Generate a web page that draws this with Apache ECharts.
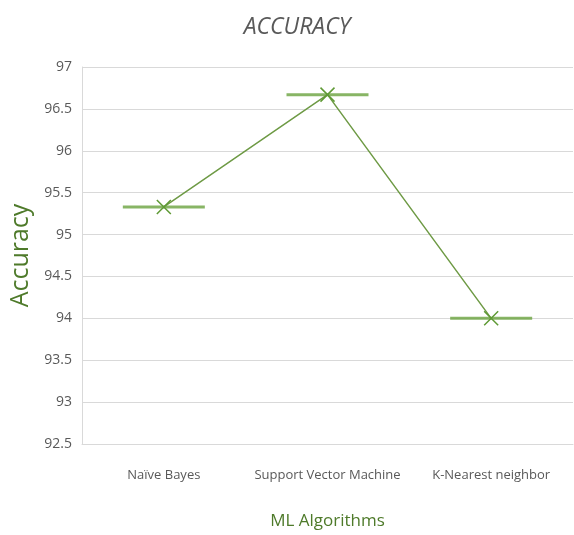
<!DOCTYPE html>
<html><head><meta charset="utf-8">
<script src="https://cdn.jsdelivr.net/npm/echarts@6/dist/echarts.min.js"></script>
<style>html,body{margin:0;padding:0;background:#fff}#c{width:574px;height:535px}</style>
</head><body><div id="c"></div>
<script>
const categories = ['Naïve Bayes', 'Support Vector Machine', 'K-Nearest neighbor'];
const accuracy = [95.33, 96.67, 94.0];
const yTicks = { min: 92.5, max: 97, interval: 0.5 };

const chart = echarts.init(document.getElementById('c'));
const font = '"Open Sans", sans-serif';
chart.setOption({
  animation: false,
  title: { text: 'ACCURACY', left: 292, top: 11, textAlign: 'center',
    textStyle: { fontFamily: font, fontStyle: 'italic', fontWeight: 'normal', fontSize: 23, color: '#595959' } },
  grid: { left: 82, right: 1, top: 67, bottom: 91, containLabel: false, outerBoundsMode: 'none' },
  xAxis: { type: 'category', data: categories, boundaryGap: true,
    axisLine: { lineStyle: { color: '#d9d9d9' } }, axisTick: { show: false },
    axisLabel: { interval: 0, fontFamily: font, fontSize: 13, color: '#595959', margin: 25 },
    name: 'ML Algorithms', nameLocation: 'middle', nameGap: 69,
    nameTextStyle: { fontFamily: font, fontSize: 17, color: '#4e7a2a' } },
  yAxis: { type: 'value', min: yTicks.min, max: yTicks.max, interval: yTicks.interval,
    axisLine: { show: true, lineStyle: { color: '#d9d9d9' } }, axisTick: { show: false },
    splitLine: { lineStyle: { color: '#d9d9d9' } },
    axisLabel: { fontFamily: font, fontSize: 14, color: '#595959', margin: 10 },
    name: 'Accuracy', nameLocation: 'middle', nameGap: 45, nameRotate: 90,
    nameTextStyle: { fontFamily: font, fontSize: 25, color: '#4e7a2a' } },
  series: [
    { type: 'scatter', data: accuracy, symbol: 'rect', symbolSize: [82, 3],
      itemStyle: { color: '#6aa23e' }, z: 2 },
    { type: 'line', data: accuracy, symbol: 'path://M0,0L10,10M10,0L0,10', symbolSize: 14,
      lineStyle: { color: '#6e9a45', width: 1.5 },
      itemStyle: { color: 'none', borderColor: '#5f9a35', borderWidth: 1.5 }, z: 3 }
  ]
});
</script></body></html>
